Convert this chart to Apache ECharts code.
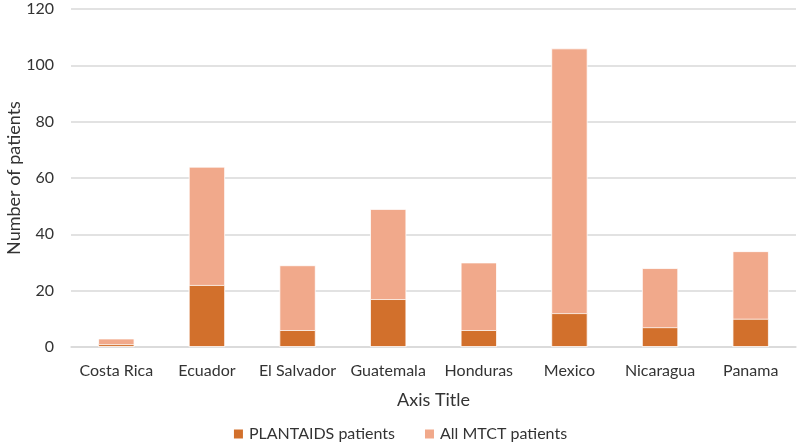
<!DOCTYPE html>
<html>
<head>
<meta charset="utf-8">
<script src="https://cdn.jsdelivr.net/npm/echarts@6/dist/echarts.min.js"></script>
<style>html,body{margin:0;padding:0;background:#fff}#c{width:799px;height:444px}</style>
</head>
<body>
<div id="c"></div>
<script>
const categories = ['Costa Rica','Ecuador','El Salvador','Guatemala','Honduras','Mexico','Nicaragua','Panama'];
const plantaids = [1,22,6,17,6,12,7,10];
const allMtct = [3,64,29,49,30,106,28,34];
const yTicks = {min:0,max:120,interval:20};
const FONT = 'Lato';
const TXT = '#333333';
const chart = echarts.init(document.getElementById('c'));
chart.setOption({
  animation:false,
  textStyle:{fontFamily:FONT},
  grid:{left:71,right:3,top:9,bottom:97,containLabel:false,outerBoundsMode:'none'},
  legend:{
    top:426,left:'center',itemWidth:11,itemHeight:11,itemGap:28,padding:0,
    icon:'rect',
    textStyle:{fontFamily:FONT,fontSize:16,color:TXT},
    data:['PLANTAIDS patients','All MTCT patients']
  },
  xAxis:{
    type:'category',data:categories,
    name:'Axis Title',nameLocation:'middle',nameGap:44,nameMoveOverlap:false,
    nameTextStyle:{fontFamily:FONT,fontSize:18,color:TXT},
    axisLine:{lineStyle:{color:'#D9D9D9',width:1.5}},
    axisTick:{show:false},
    axisLabel:{fontFamily:FONT,fontSize:16,color:TXT,margin:16,interval:0}
  },
  yAxis:{
    type:'value',min:yTicks.min,max:yTicks.max,interval:yTicks.interval,
    name:'Number of patients',nameLocation:'middle',nameGap:48,nameRotate:90,nameMoveOverlap:false,
    nameTextStyle:{fontFamily:FONT,fontSize:18,color:TXT},
    axisLine:{show:false},axisTick:{show:false},
    axisLabel:{fontFamily:FONT,fontSize:16,color:TXT,margin:17},
    splitLine:{lineStyle:{color:'#D9D9D9',width:1.5}}
  },
  series:[
    {name:'PLANTAIDS patients',type:'bar',data:plantaids,barWidth:'40%',barGap:'-100%',z:3,
     itemStyle:{color:'#D2702C',borderColor:'#fff',borderWidth:0.8}},
    {name:'All MTCT patients',type:'bar',data:allMtct,barWidth:'40%',barGap:'-100%',z:2,
     itemStyle:{color:'#F1A98B',borderColor:'#fff',borderWidth:0.8}}
  ]
});
</script>
</body>
</html>
